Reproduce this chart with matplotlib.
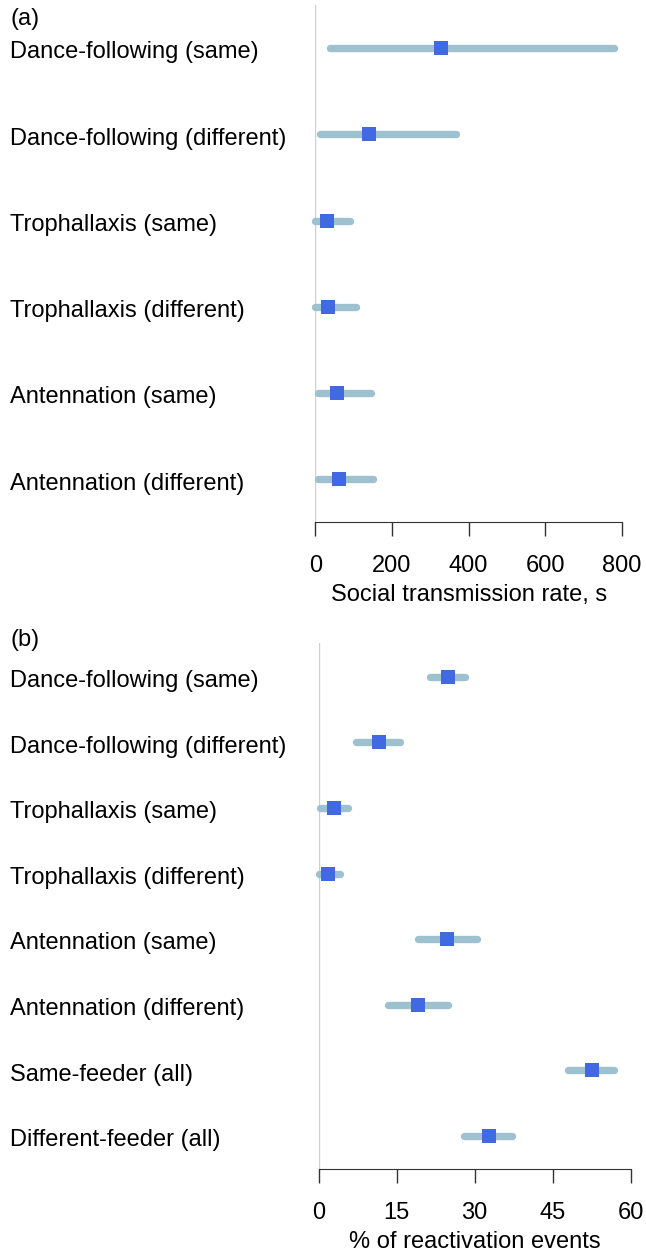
import matplotlib
matplotlib.use("Agg")
import matplotlib.pyplot as plt

plt.rcParams['font.family'] = ['Liberation Sans', 'DejaVu Sans']

# panel (a): social transmission rate, s
labels_a = ["Dance-following (same)", "Dance-following (different)",
            "Trophallaxis (same)", "Trophallaxis (different)",
            "Antennation (same)", "Antennation (different)"]
est_a = [329, 140, 30, 33, 57, 61]
low_a = [38, 12, 0, 0, 7, 7]
high_a = [778, 367, 91, 105, 145, 150]
ticks_a = [0, 200, 400, 600, 800]

# panel (b): % of reactivation events
labels_b = ["Dance-following (same)", "Dance-following (different)",
            "Trophallaxis (same)", "Trophallaxis (different)",
            "Antennation (same)", "Antennation (different)",
            "Same-feeder (all)", "Different-feeder (all)"]
est_b = [24.9, 11.6, 2.9, 1.9, 24.7, 19.2, 52.5, 32.7]
low_b = [21.5, 7.3, 0.2, 0.0, 19.2, 13.3, 47.9, 28.0]
high_b = [28.2, 15.7, 5.7, 4.1, 30.5, 24.8, 56.8, 37.1]
ticks_b = [0, 15, 30, 45, 60]

W, H = 646, 1253
line_col = "#9DC1CE"
pt_col = "#4169E1"
fs = 17

fig = plt.figure(figsize=(W / 100, H / 100), dpi=100)


def px_axes(left, top, right, bottom):
    return fig.add_axes([left / W, 1 - bottom / H, (right - left) / W, (bottom - top) / H])


def panel(ax, labels, est, low, high, ticks, xlabel, tag, tag_y, first_y, step):
    n = len(labels)
    top_px, bot_px = ax_px[tag]
    y0 = -(first_y - top_px) / step
    y1 = (bot_px - first_y) / step
    ax.set_ylim(y1, y0)
    ax.set_xlim(ticks[0], ticks[-1])
    ax.plot([0, 0], [y0, y1], color="#D0D0D0", lw=1, zorder=1)
    for i in range(n):
        ax.plot([low[i], high[i]], [i, i], color=line_col, lw=5.3,
                solid_capstyle='round', clip_on=False, zorder=2)
        ax.plot(est[i], i, marker='s', ms=10, mew=0, color=pt_col,
                clip_on=False, zorder=3)
        # baseline sits about 10 px under the row centre
        ax.annotate(labels[i], xy=(10, i), xycoords=('figure pixels', 'data'),
                    xytext=(0, -7.4), textcoords='offset points',
                    va='baseline', ha='left', fontsize=fs)
    for s in ['top', 'right', 'left']:
        ax.spines[s].set_visible(False)
    ax.spines['bottom'].set_color("#333333")
    ax.spines['bottom'].set_bounds(ticks[0], ticks[-1])
    ax.set_yticks([])
    ax.set_xticks(ticks)
    ax.tick_params(axis='x', length=10, width=1, color="#333333", pad=14, labelsize=fs)
    ax.set_xlabel(xlabel, fontsize=fs)
    ax.xaxis.set_label_coords(0.5, -(tag_y[1] - bot_px) / (bot_px - top_px))
    ax.xaxis.label.set_va('center')
    ax.annotate(tag, xy=(10, H - tag_y[0]), xycoords='figure pixels',
                va='center', ha='left', fontsize=fs)


ax_px = {"(a)": (5, 522), "(b)": (643, 1169)}

ax_a = px_axes(315.3, 5, 622, 522)
panel(ax_a, labels_a, est_a, low_a, high_a, ticks_a,
      "Social transmission rate, s", "(a)", (19, 595), 48, 86.3)

ax_b = px_axes(318.5, 643, 630.7, 1169)
panel(ax_b, labels_b, est_b, low_b, high_b, ticks_b,
      "% of reactivation events", "(b)", (640, 1242), 676.7, 65.6)

fig.savefig("out.png", dpi=100)
